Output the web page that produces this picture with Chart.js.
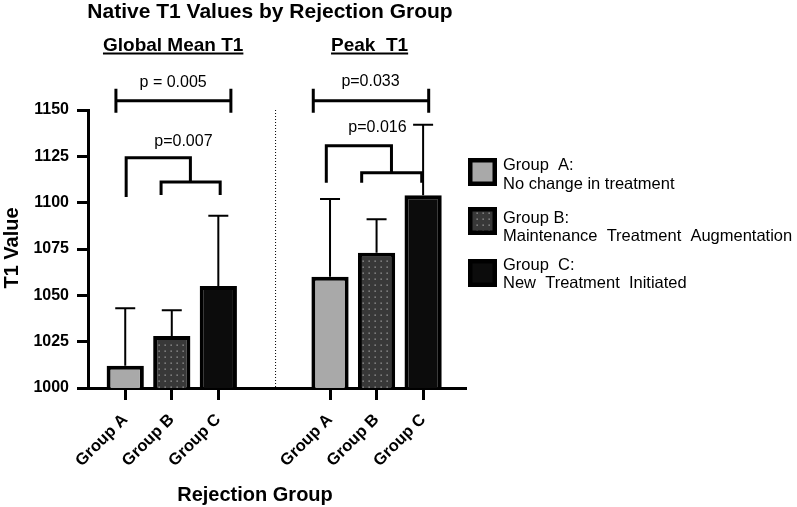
<!DOCTYPE html>
<html>
<head>
<meta charset="utf-8">
<script src="https://cdn.jsdelivr.net/npm/chart.js@4"></script>
<style>
    body { margin: 0; background: #fff; }
    #wrap { width: 797px; height: 507px; position: relative; }
</style>
</head>
<body>
<div id="wrap"><canvas id="chart"></canvas></div>
<script>
// values
var xLabels = ['Group A', 'Group B', 'Group C', 'Group A', 'Group B', 'Group C'];
var xPos = [1, 2, 3, 5.4, 6.4, 7.4];
var groupIndex = [0, 1, 2, 0, 1, 2];
var t1Means = [1012, 1028, 1055, 1060, 1073, 1104];
var t1Upper = [1043, 1042, 1093, 1102, 1091, 1142];
var yTicks = [1000, 1025, 1050, 1075, 1100, 1125, 1150];

var panelTitles = ['Global Mean T1', 'Peak  T1'];
var panelTitleX = [2.03, 6.25];
var dividerX = 4.23;

var legendTitles = ['Group  A:', 'Group B:', 'Group  C:'];
var legendTexts = ['No change in treatment', 'Maintenance  Treatment  Augmentation', 'New  Treatment  Initiated'];

// significance brackets (x in axis units, y in T1 units)
var simpleBrackets = [
    {x1: 0.8, x2: 3.27, y: 1155, lo: 1148.5, hi: 1161.5, label: 'p = 0.005', lx: 2.03, ly: 1165},
    {x1: 5.04, x2: 7.52, y: 1155, lo: 1148.5, hi: 1161.5, label: 'p=0.033', lx: 6.27, ly: 1165.5}
];
var nestedBrackets = [
    {ox: 1.02, oy: 1124.2, obottom: 1103.1, joinX: 2.4, ix1: 1.77, ix2: 3.04, iy: 1111.2, ibottom: 1104.2,
        label: 'p=0.007', lx: 2.25, ly: 1133},
    {ox: 5.32, oy: 1130.7, obottom: 1110.7, joinX: 6.72, ix1: 6.08, ix2: 7.37, iy: 1116.1, ibottom: 1110.7,
        label: 'p=0.016', lx: 6.42, ly: 1140.5}
];

var FONT = "'Liberation Sans', Arial, Helvetica, sans-serif";
Chart.defaults.font.family = FONT;
Chart.defaults.color = '#000';

// dotted fill for group B
var makeDots = function() {
    var c = document.createElement('canvas');
    c.width = 6; c.height = 6;
    var g = c.getContext('2d');
    g.fillStyle = '#383838';
    g.fillRect(0, 0, 6, 6);
    g.fillStyle = '#a0a0a0';
    g.fillRect(2.5, 2.5, 1.3, 1.3);
    return g.createPattern(c, 'repeat');
};
var dots = makeDots();
var groupFills = ['#a9a9a9', dots, '#0c0c0c'];

var points = xPos.map(function(x, i) { return {x: x, y: t1Means[i]}; });

var errorBars = {
    id: 'errorBars',
    beforeDatasetsDraw: function(chart) {
        var xs = chart.scales.x, ys = chart.scales.y, ctx = chart.ctx;
        ctx.save();
        ctx.strokeStyle = '#000';
        ctx.lineWidth = 2;
        t1Upper.forEach(function(u, i) {
            var px = xs.getPixelForValue(xPos[i]);
            var top = ys.getPixelForValue(u);
            var base = ys.getPixelForValue(t1Means[i]);
            ctx.beginPath();
            ctx.moveTo(px, base);
            ctx.lineTo(px, top);
            ctx.moveTo(px - 10, top);
            ctx.lineTo(px + 10, top);
            ctx.stroke();
        });
        ctx.restore();
    }
};

var annotations = {
    id: 'annotations',
    afterDraw: function(chart) {
        var xs = chart.scales.x, ys = chart.scales.y, ctx = chart.ctx;
        var X = function(v) { return xs.getPixelForValue(v); };
        var Y = function(v) { return ys.getPixelForValue(v); };
        ctx.save();

        // divider
        ctx.strokeStyle = '#000';
        ctx.lineWidth = 1;
        ctx.setLineDash([1, 2]);
        ctx.beginPath();
        ctx.moveTo(X(dividerX), Y(1150));
        ctx.lineTo(X(dividerX), Y(1000));
        ctx.stroke();
        ctx.setLineDash([]);

        // brackets
        ctx.lineWidth = 3;
        ctx.lineCap = 'butt';
        simpleBrackets.forEach(function(b) {
            ctx.beginPath();
            ctx.moveTo(X(b.x1), Y(b.y)); ctx.lineTo(X(b.x2), Y(b.y));
            ctx.moveTo(X(b.x1), Y(b.lo)); ctx.lineTo(X(b.x1), Y(b.hi));
            ctx.moveTo(X(b.x2), Y(b.lo)); ctx.lineTo(X(b.x2), Y(b.hi));
            ctx.stroke();
        });
        nestedBrackets.forEach(function(b) {
            ctx.beginPath();
            ctx.moveTo(X(b.ox), Y(b.obottom));
            ctx.lineTo(X(b.ox), Y(b.oy));
            ctx.lineTo(X(b.joinX), Y(b.oy));
            ctx.lineTo(X(b.joinX), Y(b.iy));
            ctx.moveTo(X(b.ix1), Y(b.ibottom));
            ctx.lineTo(X(b.ix1), Y(b.iy));
            ctx.lineTo(X(b.ix2), Y(b.iy));
            ctx.lineTo(X(b.ix2), Y(b.ibottom));
            ctx.stroke();
        });

        ctx.fillStyle = '#000';
        ctx.textAlign = 'center';
        ctx.textBaseline = 'middle';
        ctx.font = '16px ' + FONT;
        simpleBrackets.concat(nestedBrackets).forEach(function(b) {
            ctx.fillText(b.label, X(b.lx), Y(b.ly));
        });

        // titles
        ctx.font = 'bold 21px ' + FONT;
        ctx.textBaseline = 'alphabetic';
        ctx.fillText('Native T1 Values by Rejection Group', 270, 18);

        ctx.font = 'bold 19px ' + FONT;
        ctx.lineWidth = 2;
        panelTitles.forEach(function(t, i) {
            var cx = X(panelTitleX[i]);
            var w = ctx.measureText(t).width;
            ctx.fillText(t, cx, 51);
            ctx.beginPath();
            ctx.moveTo(cx - w / 2, 53.5);
            ctx.lineTo(cx + w / 2, 53.5);
            ctx.stroke();
        });

        ctx.font = 'bold 20px ' + FONT;
        ctx.fillText('Rejection Group', 255, 501);
        ctx.save();
        ctx.translate(18, 248);
        ctx.rotate(-Math.PI / 2);
        ctx.fillText('T1 Value', 0, 0);
        ctx.restore();

        // legend
        var boxTops = [158, 207, 259];
        var lineBase = [[170, 189], [223, 241], [270, 288]];
        ctx.textAlign = 'left';
        ctx.font = '16.5px ' + FONT;
        legendTitles.forEach(function(t, i) {
            var bx = 468, by = boxTops[i], bw = 29, bh = 28, bd = 4.5;
            ctx.fillStyle = '#000';
            ctx.fillRect(bx, by, bw, bh);
            ctx.fillStyle = groupFills[i];
            ctx.fillRect(bx + bd, by + bd, bw - 2 * bd, bh - 2 * bd);
            ctx.fillStyle = '#000';
            ctx.fillText(t, 503, lineBase[i][0]);
            ctx.fillText(legendTexts[i], 503, lineBase[i][1]);
        });
        ctx.restore();
    }
};

new Chart(document.getElementById('chart'), {
    type: 'bar',
    data: {
        datasets: [{
            data: points,
            backgroundColor: groupIndex.map(function(g) { return groupFills[g]; }),
            borderColor: '#000',
            borderWidth: 4,
            categoryPercentage: 0.8,
            barPercentage: 1
        }]
    },
    options: {
        responsive: true,
        maintainAspectRatio: false,
        animation: false,
        layout: {padding: {left: 0, right: 332, top: 110, bottom: 0}},
        plugins: {
            legend: {display: false},
            tooltip: {enabled: false}
        },
        scales: {
            x: {
                type: 'linear',
                min: 0.2,
                max: 8.3,
                offset: false,
                afterFit: function(s) { s.height = 119; },
                afterBuildTicks: function(s) {
                    s.ticks = xPos.map(function(v) { return {value: v}; });
                },
                border: {display: true, color: '#000', width: 3},
                grid: {display: true, drawOnChartArea: false, offset: false, color: '#000', lineWidth: 3, tickLength: 12},
                ticks: {
                    autoSkip: false,
                    minRotation: 45,
                    maxRotation: 45,
                    padding: 10,
                    color: '#000',
                    font: {size: 16.5, weight: 'bold'},
                    callback: function(v, i) { return xLabels[i]; }
                }
            },
            y: {
                min: 1000,
                max: 1150,
                afterFit: function(s) { s.width = 88; },
                afterBuildTicks: function(s) {
                    s.ticks = yTicks.map(function(v) { return {value: v}; });
                },
                border: {display: true, color: '#000', width: 3},
                grid: {display: true, drawOnChartArea: false, color: '#000', lineWidth: 3, tickLength: 11},
                ticks: {
                    padding: 8,
                    color: '#000',
                    font: {size: 16, weight: 'bold'},
                    callback: function(v) { return String(v); }
                }
            }
        }
    },
    plugins: [errorBars, annotations]
});
</script>
</body>
</html>
